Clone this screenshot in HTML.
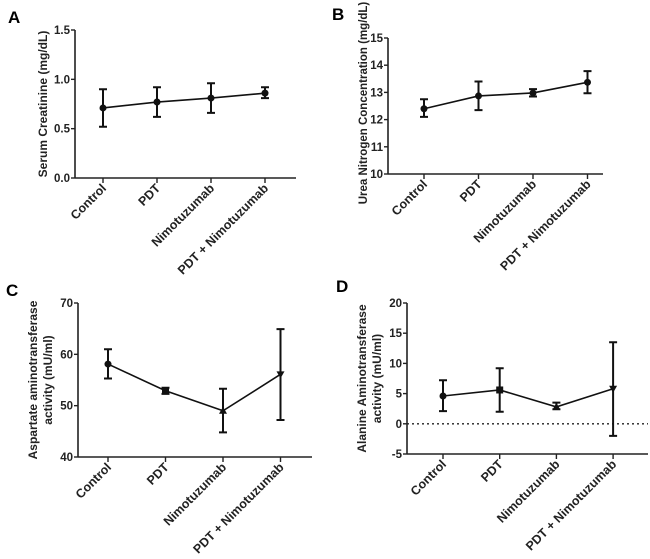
<!DOCTYPE html>
<html><head><meta charset="utf-8"><style>
body{margin:0;background:#fff;width:650px;height:554px;overflow:hidden}
svg{font-family:"Liberation Sans",Arial,sans-serif}
.t{font-size:11.5px;font-weight:bold;fill:#222}
.x{font-size:12.5px;font-weight:bold;fill:#222}
</style></head><body>
<svg id="s" width="650" height="554">
<text x="8" y="23" font-size="17" font-weight="bold">A</text>
<text x="332" y="20" font-size="17" font-weight="bold">B</text>
<text x="6" y="296" font-size="17" font-weight="bold">C</text>
<text x="336" y="292" font-size="17" font-weight="bold">D</text>
</svg>
<script>
const categories=["Control","PDT","Nimotuzumab","PDT + Nimotuzumab"];
const creatMean=[0.71,0.77,0.81,0.86];
const creatLo=[0.52,0.62,0.66,0.81];
const creatHi=[0.90,0.92,0.96,0.92];
const creatTicks=[0,0.5,1.0,1.5];
const ureaMean=[12.4,12.87,12.98,13.37];
const ureaLo=[12.1,12.35,12.85,12.97];
const ureaHi=[12.75,13.4,13.12,13.78];
const ureaTicks=[10,11,12,13,14,15];
const astMean=[58.1,52.9,49.0,56.1];
const astLo=[55.3,52.3,44.8,47.2];
const astHi=[61.0,53.5,53.3,64.9];
const astTicks=[40,50,60,70];
const altMean=[4.6,5.6,2.8,5.8];
const altLo=[2.1,2.0,2.4,-2.0];
const altHi=[7.2,9.2,3.5,13.5];
const altTicks=[-5,0,5,10,15,20];

const NS="http://www.w3.org/2000/svg";
const svg=document.getElementById('s');
function mk(tag,attrs,parent){const e=document.createElementNS(NS,tag);for(const k in attrs)e.setAttribute(k,attrs[k]);(parent||svg).appendChild(e);return e;}

function panel(cfg){
  const g=mk('g',{});
  
  
  const ymin=cfg.ticks[0],ymax=cfg.ticks[cfg.ticks.length-1];
  const Y=v=>cfg.yb+(v-ymin)/(ymax-ymin)*(cfg.yt-cfg.yb);
  const X=i=>cfg.cx0+i*cfg.dx;
  const ya=mk('line',{x1:cfg.ax,x2:cfg.ax,y1:cfg.yt,y2:cfg.yb,stroke:'#222','stroke-width':1.6},g);
  
  
  const xa=mk('line',{x1:cfg.ax,x2:cfg.xe,y1:cfg.yb,y2:cfg.yb,stroke:'#222','stroke-width':1.6},g);
  
  
  cfg.ticks.forEach(v=>{
    mk('line',{x1:cfg.ax-4,x2:cfg.ax,y1:Y(v),y2:Y(v),stroke:'#222','stroke-width':1.4},g);
    const t=mk('text',{x:cfg.ax-5,y:Y(v)+4,'text-anchor':'end',class:'t'},g);
    t.textContent=cfg.fmt(v);
    
    
  });
  if(cfg.zero){
    const z=mk('line',{x1:cfg.ax,x2:cfg.xe,y1:Y(0),y2:Y(0),stroke:'#222','stroke-width':1.4,'stroke-dasharray':'2,3'},g);
    
    
  }
  categories.forEach((c,i)=>{
    mk('line',{x1:X(i),x2:X(i),y1:cfg.yb,y2:cfg.yb+5,stroke:'#222','stroke-width':1.4},g);
    const t=mk('text',{x:X(i)+4,y:cfg.yb+11,'text-anchor':'end',class:'x',transform:`rotate(-45 ${X(i)+4} ${cfg.yb+11})`},g);
    t.textContent=c;
    
    
  });
  const pts=cfg.mean.map((v,i)=>X(i)+','+Y(v)).join(' ');
  const pl=mk('polyline',{points:pts,fill:'none',stroke:'#111','stroke-width':1.6},g);
  
  
  cfg.mean.forEach((v,i)=>{
    const x=X(i);
    const eb=mk('path',{d:`M${x},${Y(cfg.lo[i])}V${Y(cfg.hi[i])}M${x-4},${Y(cfg.lo[i])}H${x+4}M${x-4},${Y(cfg.hi[i])}H${x+4}`,stroke:'#111','stroke-width':2,fill:'none'},g);
    
    
    const y=Y(v);let m;
    const shape=cfg.markers?cfg.markers[i]:'c';
    if(shape==='c') m=mk('circle',{cx:x,cy:y,r:3.5,fill:'#111'},g);
    else if(shape==='s') m=mk('rect',{x:x-3.5,y:y-3.5,width:7,height:7,fill:'#111'},g);
    else if(shape==='t') m=mk('path',{d:`M${x},${y-4}L${x+4},${y+3}L${x-4},${y+3}Z`,fill:'#111'},g);
    else m=mk('path',{d:`M${x},${y+4}L${x+4},${y-3}L${x-4},${y-3}Z`,fill:'#111'},g);
    
    
  });
  const cy=cfg.cy!==undefined?cfg.cy:(cfg.yt+cfg.yb)/2;
  cfg.title.forEach((line,k)=>{
    const tx=cfg.tx+k*15;
    const t=mk('text',{x:tx,y:cy,'text-anchor':'middle','font-size':cfg.fs||'12','font-weight':'bold',fill:'#222',transform:`rotate(-90 ${tx} ${cy})`},g);
    t.textContent=line;
    
    
  });
}
const f1=v=>v.toFixed(1), f0=v=>String(v);
panel({name:'panel-a-creatinine',ticks:creatTicks,mean:creatMean,lo:creatLo,hi:creatHi,ax:75,xe:296,yt:30,yb:178,cx0:103,dx:54,fmt:f1,title:['Serum Creatinine (mg/dL)'],tx:47});
panel({name:'panel-b-urea',ticks:ureaTicks,mean:ureaMean,lo:ureaLo,hi:ureaHi,ax:388,xe:603,yt:38,yb:174,cx0:424,dx:54.5,fmt:f0,title:['Urea Nitrogen Concentration (mg/dL)'],tx:367,cy:103,fs:'11.5'});
panel({name:'panel-c-ast',ticks:astTicks,mean:astMean,lo:astLo,hi:astHi,ax:78,xe:312,yt:303,yb:457,cx0:108,dx:57.5,fmt:f0,title:['Aspartate aminotransferase','activity (mU/ml)'],tx:37,markers:['c','s','t','v']});
panel({name:'panel-d-alt',ticks:altTicks,mean:altMean,lo:altLo,hi:altHi,ax:407,xe:648,yt:303,yb:454,cx0:443,dx:56.7,fmt:f0,title:['Alanine Aminotransferase','activity (mU/ml)'],tx:366,zero:true,markers:['c','s','t','v']});
</script>
</body></html>
